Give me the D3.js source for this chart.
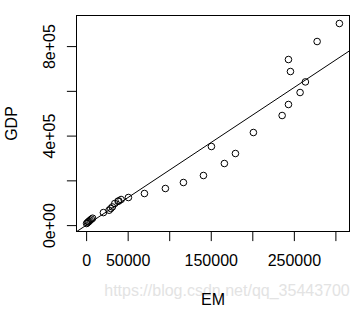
<!DOCTYPE html>
<html>
<head>
<meta charset="utf-8">
<script src="https://cdnjs.cloudflare.com/ajax/libs/d3/7.8.5/d3.min.js"></script>
<style>
body { margin: 0; background: #fff; }
text { font-family: "Liberation Sans", Arial, sans-serif; }
</style>
</head>
<body>
<div class="chart"></div>
<script>
const em = [304800, 278000, 243500, 245900, 263900, 257500, 243500, 235900, 201300, 150800,
	179700, 166400, 141200, 117100, 95400, 70200, 50900, 42100, 39300, 38500,
	34500, 31600, 29700, 27700, 20800, 7800, 6300, 4800, 3600, 2600, 1600, 600];
const gdp = [901000, 820500, 740000, 686400, 640000, 592600, 539000, 489800, 413800, 351300,
	320000, 275300, 221700, 190400, 163600, 141200, 123300, 114400, 108100, 106800,
	96500, 81300, 74200, 66600, 56000, 30800, 26400, 21900, 17400, 14300, 10700, 7200];
// fitted line GDP = a + b * EM
const fit = [-800, 2.46];
const xTicks = [0, 50000, 100000, 150000, 200000, 250000, 300000];
const xTickLabels = ['0', '50000', '', '150000', '', '250000', ''];
const yTicks = [0, 200000, 400000, 600000, 800000];
const yTickLabels = ['0e+00', '', '4e+05', '', '8e+05'];

const w = 359;
const h = 310;
const pl = 76.5, pr = 349.5, pt = 15.5, pb = 231.5;

// R style 4% padding
const pad = (ext) => { const r = ext[1] - ext[0]; return [ext[0] - r * 0.04, ext[1] + r * 0.04]; };

const xScale = d3.scaleLinear().domain(pad(d3.extent(em))).range([pl, pr]);
const yScale = d3.scaleLinear().domain(pad(d3.extent(gdp))).range([pb, pt]);

const svg = d3.select('div.chart')
	.append('svg')
	.attr('width', w)
	.attr('height', h);

svg.append('clipPath')
	.attr('id', 'plot')
	.append('rect')
	.attr('x', pl)
	.attr('y', pt)
	.attr('width', pr - pl)
	.attr('height', pb - pt);

const xd = xScale.domain();
svg.append('line')
	.attr('clip-path', 'url(#plot)')
	.attr('x1', xScale(xd[0]))
	.attr('y1', yScale(fit[0] + fit[1] * xd[0]))
	.attr('x2', xScale(xd[1]))
	.attr('y2', yScale(fit[0] + fit[1] * xd[1]))
	.attr('stroke', '#000')
	.attr('stroke-width', 1);

svg.selectAll('circle')
	.data(em)
	.enter()
	.append('circle')
	.attr('cx', (d) => xScale(d))
	.attr('cy', (d, i) => yScale(gdp[i]))
	.attr('r', 3.3)
	.attr('fill', 'none')
	.attr('stroke', '#000')
	.attr('stroke-width', 1);

svg.append('rect')
	.attr('x', pl)
	.attr('y', pt)
	.attr('width', pr - pl)
	.attr('height', pb - pt)
	.attr('fill', 'none')
	.attr('stroke', '#000');

const xAxis = d3.axisBottom(xScale)
	.tickValues(xTicks)
	.tickSize(9.6)
	.tickPadding(14)
	.tickFormat((d, i) => xTickLabels[i]);

svg.append('g')
	.attr('transform', 'translate(0,' + pb + ')')
	.call(xAxis)
	.call((g) => g.select('.domain').remove())
	.call((g) => g.selectAll('text').attr('font-size', 16).attr('font-family', null).attr('fill', '#000'));

const yAxis = d3.axisLeft(yScale)
	.tickValues(yTicks)
	.tickSize(9.6)
	.tickFormat((d, i) => yTickLabels[i]);

svg.append('g')
	.attr('transform', 'translate(' + pl + ',0)')
	.call(yAxis)
	.call((g) => g.select('.domain').remove())
	.call((g) => g.selectAll('text')
		.attr('font-size', 16)
		.attr('font-family', null)
		.attr('fill', '#000')
		.attr('x', null)
		.attr('dy', null)
		.attr('text-anchor', 'middle')
		.attr('transform', 'translate(-21.5,0) rotate(-90)'));

// watermark of the source image
svg.append('text')
	.text('https://blog.csdn.net/qq_35443700')
	.attr('x', 227)
	.attr('y', 296)
	.attr('text-anchor', 'middle')
	.attr('font-size', 16)
	.attr('fill', '#e3e3e3');

svg.append('text')
	.text('EM')
	.attr('x', (pl + pr) / 2)
	.attr('y', 305)
	.attr('text-anchor', 'middle')
	.attr('font-size', 16);

svg.append('text')
	.text('GDP')
	.attr('transform', 'translate(16.5,' + (pt + pb) / 2 + ') rotate(-90)')
	.attr('text-anchor', 'middle')
	.attr('font-size', 16);
</script>
</body>
</html>
